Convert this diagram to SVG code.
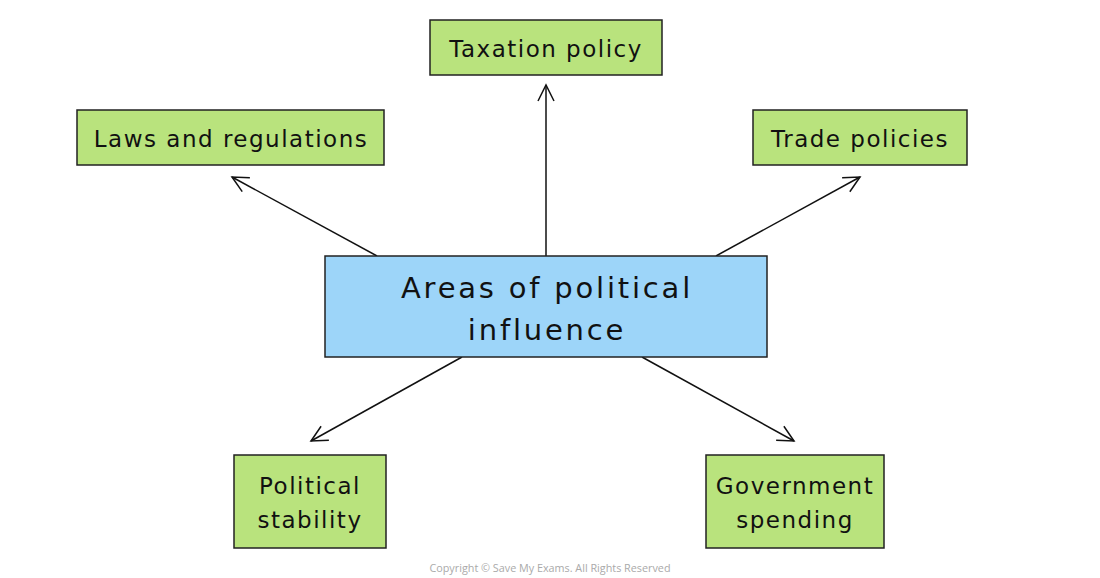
<svg xmlns="http://www.w3.org/2000/svg" width="1100" height="578" viewBox="0 0 1100 578">
<style>
.g{fill:#b9e37d;stroke:#222;stroke-width:1.5}
.b{fill:#9dd5f9;stroke:#222;stroke-width:1.5}
.t{font-family:"DejaVu Sans","Liberation Sans",sans-serif;font-size:23px;fill:#111;text-anchor:middle;letter-spacing:1.5px}
.tc{font-family:"DejaVu Sans","Liberation Sans",sans-serif;font-size:29px;fill:#111;text-anchor:middle;letter-spacing:2.8px}
.c line{stroke:#111;stroke-width:1.5;fill:none}
.cp{font-family:"Open Sans","Liberation Sans",sans-serif;font-size:10.8px;fill:#aaa;text-anchor:middle}
</style>
<defs>
<marker id="a" viewBox="0 0 20 20" refX="18" refY="10" markerWidth="20" markerHeight="20" markerUnits="userSpaceOnUse" orient="auto">
<path d="M2,2 L18,10 L2,18" fill="none" stroke="#111" stroke-width="1.5"/>
</marker>
</defs>
<rect width="1100" height="578" fill="#fff"/>
<g class="c" id="connectors">
<line x1="546" y1="256" x2="546" y2="85" marker-end="url(#a)"/>
<line x1="377" y1="256" x2="232" y2="177" marker-end="url(#a)"/>
<line x1="716" y1="256" x2="860" y2="177" marker-end="url(#a)"/>
<line x1="462" y1="357" x2="311" y2="441" marker-end="url(#a)"/>
<line x1="642" y1="357" x2="794" y2="441" marker-end="url(#a)"/>
</g>
<g id="center">
<rect class="b" x="325" y="256" width="442" height="101"/>
<text class="tc" x="547" y="298">Areas of political</text>
<text class="tc" x="547" y="340">influence</text>
</g>
<g id="taxation">
<rect class="g" x="430" y="20" width="232" height="55"/>
<text class="t" x="546" y="57">Taxation policy</text>
</g>
<g id="laws">
<rect class="g" x="77" y="110" width="307" height="55"/>
<text class="t" x="231" y="147">Laws and regulations</text>
</g>
<g id="trade">
<rect class="g" x="753" y="110" width="214" height="55"/>
<text class="t" x="860" y="147">Trade policies</text>
</g>
<g id="stability">
<rect class="g" x="234" y="455" width="152" height="93"/>
<text class="t" x="310" y="494">Political</text>
<text class="t" x="310" y="528">stability</text>
</g>
<g id="spending">
<rect class="g" x="706" y="455" width="178" height="93"/>
<text class="t" x="795" y="494">Government</text>
<text class="t" x="795" y="528">spending</text>
</g>
<text class="cp" x="550" y="572">Copyright © Save My Exams. All Rights Reserved</text>
</svg>
